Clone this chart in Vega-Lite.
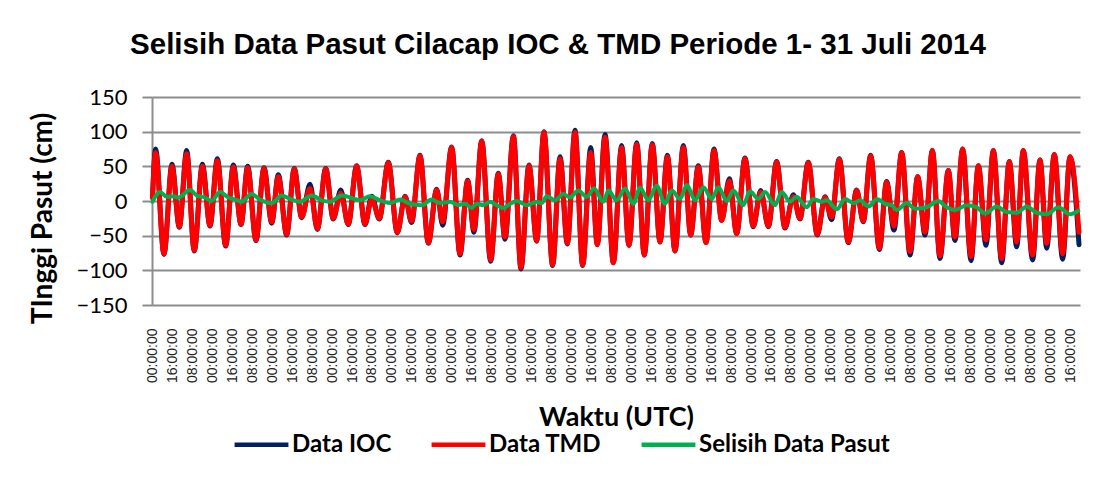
{
  "$schema": "https://vega.github.io/schema/vega-lite/v6.json",
  "autosize": {"type": "none"},
  "width": 928,
  "height": 208,
  "padding": {"left": 152, "top": 97, "right": 26, "bottom": 175},
  "background": "white",
  "title": {
    "text": "Selisih Data Pasut Cilacap IOC & TMD Periode 1- 31 Juli 2014",
    "font": "Liberation Sans",
    "fontSize": 29.5,
    "fontWeight": "bold",
    "color": "#000000",
    "anchor": "middle",
    "dx": -58,
    "offset": 26
  },
  "datasets": {
    "ioc": [{"h":0,"v":5},{"h":2.5,"v":75},{"h":9.2,"v":-77},{"h":15.6,"v":53},{"h":21.5,"v":-38},{"h":27.4,"v":73},{"h":33.5,"v":-72},{"h":40,"v":53},{"h":46.1,"v":-36},{"h":52,"v":61},{"h":58.7,"v":-65},{"h":64.8,"v":52},{"h":71,"v":-34},{"h":76.3,"v":50},{"h":83,"v":-57},{"h":89.4,"v":48},{"h":95.6,"v":-32},{"h":100.9,"v":38},{"h":107.6,"v":-49},{"h":113.7,"v":47},{"h":119.6,"v":-24},{"h":126.3,"v":24},{"h":132.2,"v":-41},{"h":138.9,"v":47},{"h":145,"v":-26},{"h":150.9,"v":16},{"h":157,"v":-34},{"h":163.7,"v":51},{"h":170.4,"v":-34},{"h":175.8,"v":7},{"h":181.9,"v":-26},{"h":189.1,"v":56},{"h":196.3,"v":-46},{"h":202.5,"v":7},{"h":207.8,"v":-31},{"h":214.5,"v":66},{"h":221.2,"v":-61},{"h":227.9,"v":17},{"h":232.7,"v":-35},{"h":239.9,"v":78},{"h":246.6,"v":-78},{"h":252.7,"v":30},{"h":257.8,"v":-45},{"h":264,"v":87},{"h":271.2,"v":-87},{"h":277.3,"v":40},{"h":282.7,"v":-55},{"h":289.4,"v":94},{"h":295.5,"v":-98},{"h":301.9,"v":52},{"h":308.1,"v":-58},{"h":313.9,"v":100},{"h":320.9,"v":-93},{"h":326.8,"v":64},{"h":332.7,"v":-62},{"h":338.8,"v":102},{"h":345,"v":-93},{"h":351.4,"v":77},{"h":356.7,"v":-63},{"h":362.9,"v":96},{"h":369.6,"v":-89},{"h":376.2,"v":80},{"h":382.1,"v":-64},{"h":388.3,"v":84},{"h":394.4,"v":-78},{"h":400.8,"v":83},{"h":407,"v":-59},{"h":412.9,"v":66},{"h":419,"v":-72},{"h":425.7,"v":80},{"h":431.6,"v":-49},{"h":437.7,"v":51},{"h":443.9,"v":-60},{"h":450.3,"v":75},{"h":456.4,"v":-28},{"h":462.6,"v":32},{"h":468.5,"v":-47},{"h":475.1,"v":62},{"h":481.8,"v":-37},{"h":487.7,"v":15},{"h":493.9,"v":-37},{"h":500.5,"v":57},{"h":507.2,"v":-39},{"h":513.9,"v":9},{"h":519.2,"v":-26},{"h":525.9,"v":56},{"h":533.1,"v":-49},{"h":539.3,"v":6},{"h":544.6,"v":-27},{"h":550.8,"v":61},{"h":558,"v":-60},{"h":564.7,"v":16},{"h":570,"v":-30},{"h":575.9,"v":66},{"h":582.9,"v":-70},{"h":588.7,"v":28},{"h":594.6,"v":-42},{"h":600.8,"v":70},{"h":607.5,"v":-78},{"h":613.6,"v":35},{"h":619.5,"v":-49},{"h":625.4,"v":73},{"h":631.5,"v":-83},{"h":638.2,"v":44},{"h":643.5,"v":-57},{"h":649.7,"v":75},{"h":656.4,"v":-86},{"h":662.3,"v":51},{"h":668.4,"v":-64},{"h":674.3,"v":73},{"h":681,"v":-89},{"h":687.1,"v":57},{"h":693,"v":-66},{"h":698.3,"v":73},{"h":705.8,"v":-85},{"h":711.7,"v":59},{"h":717.1,"v":-68},{"h":723.2,"v":67},{"h":729.9,"v":-84},{"h":735.8,"v":64},{"h":743,"v":-63}],
    "tmd": [{"h":0,"v":5},{"h":2.5,"v":70},{"h":9.2,"v":-76},{"h":15.6,"v":50},{"h":21.5,"v":-37},{"h":27.4,"v":68},{"h":33.5,"v":-71},{"h":40,"v":50},{"h":46.1,"v":-35},{"h":52,"v":58},{"h":58.7,"v":-64},{"h":64.8,"v":49},{"h":71,"v":-33},{"h":76.3,"v":48},{"h":83,"v":-56},{"h":89.4,"v":47},{"h":95.6,"v":-30},{"h":100.9,"v":35},{"h":107.6,"v":-48},{"h":113.7,"v":46},{"h":119.6,"v":-23},{"h":126.3,"v":18},{"h":132.2,"v":-40},{"h":138.9,"v":46},{"h":145,"v":-25},{"h":150.9,"v":11},{"h":157,"v":-33},{"h":163.7,"v":50},{"h":170.4,"v":-33},{"h":175.8,"v":3},{"h":181.9,"v":-25},{"h":189.1,"v":55},{"h":196.3,"v":-45},{"h":202.5,"v":6},{"h":207.8,"v":-29},{"h":214.5,"v":65},{"h":221.2,"v":-60},{"h":227.9,"v":16},{"h":232.7,"v":-30},{"h":239.9,"v":77},{"h":246.6,"v":-76},{"h":252.7,"v":29},{"h":257.8,"v":-41},{"h":264,"v":86},{"h":271.2,"v":-85},{"h":277.3,"v":39},{"h":282.7,"v":-52},{"h":289.4,"v":93},{"h":295.5,"v":-96},{"h":301.9,"v":51},{"h":308.1,"v":-57},{"h":313.9,"v":99},{"h":320.9,"v":-92},{"h":326.8,"v":61},{"h":332.7,"v":-61},{"h":338.8,"v":99},{"h":345,"v":-92},{"h":351.4,"v":70},{"h":356.7,"v":-63},{"h":362.9,"v":92},{"h":369.6,"v":-89},{"h":376.2,"v":77},{"h":382.1,"v":-64},{"h":388.3,"v":82},{"h":394.4,"v":-78},{"h":400.8,"v":81},{"h":407,"v":-59},{"h":412.9,"v":64},{"h":419,"v":-72},{"h":425.7,"v":77},{"h":431.6,"v":-49},{"h":437.7,"v":49},{"h":443.9,"v":-60},{"h":450.3,"v":73},{"h":456.4,"v":-28},{"h":462.6,"v":29},{"h":468.5,"v":-47},{"h":475.1,"v":61},{"h":481.8,"v":-36},{"h":487.7,"v":13},{"h":493.9,"v":-36},{"h":500.5,"v":56},{"h":507.2,"v":-38},{"h":513.9,"v":6},{"h":519.2,"v":-25},{"h":525.9,"v":55},{"h":533.1,"v":-48},{"h":539.3,"v":5},{"h":544.6,"v":-23},{"h":550.8,"v":60},{"h":558,"v":-59},{"h":564.7,"v":15},{"h":570,"v":-29},{"h":575.9,"v":65},{"h":582.9,"v":-68},{"h":588.7,"v":27},{"h":594.6,"v":-36},{"h":600.8,"v":70},{"h":607.5,"v":-73},{"h":613.6,"v":35},{"h":619.5,"v":-45},{"h":625.4,"v":73},{"h":631.5,"v":-79},{"h":638.2,"v":44},{"h":643.5,"v":-52},{"h":649.7,"v":75},{"h":656.4,"v":-80},{"h":662.3,"v":51},{"h":668.4,"v":-56},{"h":674.3,"v":73},{"h":681,"v":-83},{"h":687.1,"v":57},{"h":693,"v":-59},{"h":698.3,"v":73},{"h":705.8,"v":-78},{"h":711.7,"v":59},{"h":717.1,"v":-61},{"h":723.2,"v":67},{"h":729.9,"v":-76},{"h":735.8,"v":64},{"h":743,"v":-45}],
    "sel": [{"h":0,"v":-1},{"h":6,"v":13},{"h":11.4,"v":6},{"h":16.7,"v":7},{"h":20.7,"v":5},{"h":30.1,"v":16},{"h":35.4,"v":8},{"h":42.1,"v":5},{"h":47.4,"v":0},{"h":54.1,"v":13},{"h":60.8,"v":5},{"h":66.2,"v":2},{"h":71.5,"v":-1},{"h":79.5,"v":10},{"h":86.2,"v":2},{"h":95.6,"v":-3},{"h":103.6,"v":8},{"h":111.6,"v":2},{"h":118.3,"v":-1},{"h":127.6,"v":8},{"h":135.7,"v":1},{"h":142.3,"v":-1},{"h":151.7,"v":8},{"h":158.4,"v":5},{"h":166.4,"v":1},{"h":174.4,"v":7},{"h":182.4,"v":1},{"h":190.5,"v":-3},{"h":198.5,"v":2},{"h":206.5,"v":-4},{"h":215.9,"v":-6},{"h":223.9,"v":2},{"h":230.6,"v":-3},{"h":238.6,"v":-1},{"h":245.3,"v":-6},{"h":250.6,"v":-4},{"h":256,"v":-10},{"h":260,"v":-4},{"h":265.4,"v":-6},{"h":270.7,"v":-1},{"h":276.1,"v":-6},{"h":281.4,"v":-10},{"h":286.8,"v":-4},{"h":292.1,"v":0},{"h":300.1,"v":-6},{"h":308.1,"v":-1},{"h":312.1,"v":-3},{"h":316.1,"v":7},{"h":322.8,"v":1},{"h":329.5,"v":10},{"h":334.8,"v":5},{"h":341.5,"v":15},{"h":348.2,"v":6},{"h":354.1,"v":18},{"h":361.6,"v":-1},{"h":365.6,"v":15},{"h":372.2,"v":1},{"h":379,"v":18},{"h":385.6,"v":-4},{"h":391,"v":19},{"h":397.6,"v":1},{"h":404.3,"v":22},{"h":411,"v":-4},{"h":416.4,"v":15},{"h":423.1,"v":3},{"h":428.5,"v":23},{"h":435.1,"v":1},{"h":441.8,"v":20},{"h":448.5,"v":3},{"h":453.8,"v":20},{"h":460.5,"v":0},{"h":465.8,"v":15},{"h":473.8,"v":-6},{"h":479.1,"v":14},{"h":485.8,"v":3},{"h":491.2,"v":13},{"h":499.2,"v":-6},{"h":504.6,"v":13},{"h":511.2,"v":-1},{"h":516.6,"v":6},{"h":524.6,"v":-9},{"h":530,"v":3},{"h":536.7,"v":-1},{"h":540.7,"v":1},{"h":548.8,"v":-12},{"h":555.4,"v":3},{"h":562.1,"v":-3},{"h":567.5,"v":1},{"h":574.2,"v":-8},{"h":580.9,"v":3},{"h":587.6,"v":-4},{"h":592.9,"v":-6},{"h":596.8,"v":-13},{"h":604.8,"v":-3},{"h":611.5,"v":-11},{"h":620.8,"v":-9},{"h":630.2,"v":0},{"h":636.9,"v":-9},{"h":643.6,"v":-13},{"h":652.9,"v":-6},{"h":661,"v":-9},{"h":667.6,"v":-18},{"h":677,"v":-8},{"h":685,"v":-16},{"h":693,"v":-17},{"h":701.1,"v":-8},{"h":709.1,"v":-17},{"h":717.1,"v":-19},{"h":726.5,"v":-9},{"h":735.8,"v":-19},{"h":742.5,"v":-14}]
  },
  "encoding": {
    "x": {
      "field": "h",
      "type": "quantitative",
      "scale": {"domain": [-0.4, 743.8], "nice": false, "zero": false},
      "axis": {
        "title": "Waktu (UTC)",
        "values": [0,16,32,48,64,80,96,112,128,144,160,176,192,208,224,240,256,272,288,304,320,336,352,368,384,400,416,432,448,464,480,496,512,528,544,560,576,592,608,624,640,656,672,688,704,720,736],
        "labelExpr": "(datum.value % 24 < 10 ? '0' : '') + (datum.value % 24) + ':00:00'",
        "labelAngle": -90,
        "labelFont": "Liberation Sans",
        "labelFontSize": 14,
        "labelColor": "#222222",
        "labelPadding": 23,
        "labelOverlap": false,
        "labelFlush": false,
        "ticks": false,
        "domain": false,
        "grid": false,
        "titleFont": "Lato",
        "titleFontSize": 27,
        "titleFontWeight": "bold",
        "titleColor": "#000000",
        "titleBaseline": "middle",
        "titleY": 112
      }
    },
    "y": {
      "field": "v",
      "type": "quantitative",
      "scale": {"domain": [-150, 150], "nice": false},
      "axis": {
        "title": "TInggi Pasut (cm)",
        "values": [-150,-100,-50,0,50,100,150],
        "labelFont": "Lato",
        "labelFontSize": 22,
        "labelColor": "#000000",
        "labelPadding": 15,
        "tickSize": 10,
        "tickColor": "#8c8c8c",
        "tickWidth": 2,
        "domainColor": "#8c8c8c",
        "domainWidth": 2,
        "grid": true,
        "gridColor": "#8c8c8c",
        "gridWidth": 2,
        "titleFont": "Lato",
        "titleFontSize": 28,
        "titleFontWeight": "bold",
        "titleColor": "#000000",
        "titleAngle": -90,
        "titleAlign": "center",
        "titleBaseline": "middle",
        "titleX": -109,
        "titleY": 121
      }
    }
  },
  "layer": [
    {
      "data": {"name": "ioc"},
      "mark": {"type": "line", "interpolate": "monotone", "strokeWidth": 5, "strokeCap": "round", "strokeJoin": "round"},
      "encoding": {
        "color": {
          "datum": "Data IOC",
          "type": "nominal",
          "scale": {"domain": ["Data IOC", "Data TMD", "Selisih Data Pasut"], "range": ["#002060", "#ff0000", "#00b050"]},
          "legend": {
            "title": null,
            "orient": "none",
            "direction": "horizontal",
            "legendX": 80,
            "legendY": 318,
            "symbolType": "stroke",
            "symbolSize": 2900,
            "symbolStrokeWidth": 4.5,
            "labelFont": "Lato",
            "labelFontSize": 24,
            "labelFontWeight": "bold",
            "labelColor": "#000000",
            "labelOffset": 1,
            "labelLimit": 400,
            "columnPadding": 30
          }
        }
      }
    },
    {
      "data": {"name": "tmd"},
      "mark": {"type": "line", "interpolate": "monotone", "strokeWidth": 5, "strokeCap": "round", "strokeJoin": "round"},
      "encoding": {"color": {"datum": "Data TMD", "type": "nominal"}}
    },
    {
      "data": {"name": "sel"},
      "mark": {"type": "line", "interpolate": "monotone", "strokeWidth": 4, "strokeCap": "round", "strokeJoin": "round"},
      "encoding": {"color": {"datum": "Selisih Data Pasut", "type": "nominal"}}
    }
  ],
  "config": {
    "view": {"stroke": null},
    "axis": {"labelFontWeight": "normal"}
  }
}
